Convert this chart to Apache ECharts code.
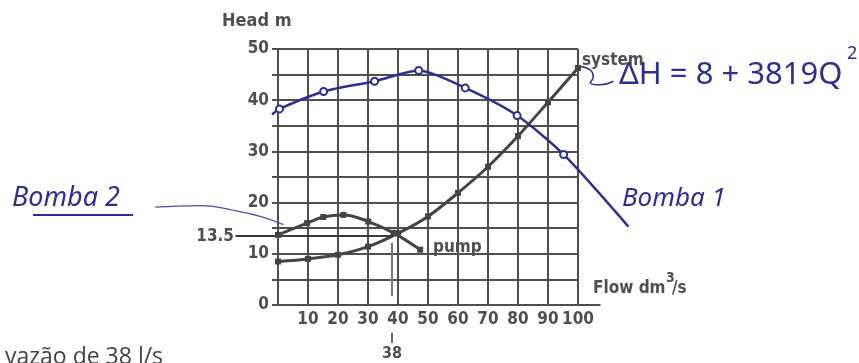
<!DOCTYPE html>
<html>
<head>
<meta charset="utf-8">
<title>Head x Flow</title>
<script src="https://cdn.jsdelivr.net/npm/echarts/dist/echarts.min.js"></script>
<style>
  html, body { margin: 0; padding: 0; background: #fff; }
  #chart { width: 859px; height: 363px; }
</style>
</head>
<body>
<div id="chart"></div>
<script>
// system curve (printed)
var systemQ = [0, 10, 20, 30, 40, 50, 60, 70, 80, 90, 100];
var systemH = [8.5, 9.0, 9.8, 11.4, 14.0, 17.3, 21.9, 27.0, 33.0, 39.6, 46.3];
// pump curve (Bomba 2)
var pumpQ = [0, 9.7, 15.1, 21.8, 30.1, 38.5, 47.4];
var pumpH = [13.7, 16.0, 17.2, 17.6, 16.3, 14.1, 10.8];
// Bomba 1, hand drawn in blue (first and last point are just the pen ends)
var bomba1Q = [-2, 0.5, 15.2, 32.2, 46.9, 62.4, 79.7, 95.2, 116.8];
var bomba1H = [37.2, 38.3, 41.7, 43.7, 45.8, 42.4, 37.0, 29.4, 15.3];
// operating point read on the chart
var opQ = 38;
var opH = 13.5;
// hand drawn pointers
var bomba2PtrQ = [-40.9, -25.9, -14.9, -5.9, 1.8];
var bomba2PtrH = [19.1, 19.4, 18.5, 17.3, 15.7];
var systemPtrQ = [100.8, 104.1, 105.1, 104.1, 107.4, 111.8];
var systemPtrH = [46.6, 45.9, 44.6, 43.4, 43.0, 43.7];

var grey = '#4f4f4f';
var ink = '#2e2f8e';
var narrow = '"Liberation Sans Narrow", "DejaVu Sans Condensed", sans-serif';

// plot box: 0..100 over 300px, 0..50 over 256px
var W = 859, H = 363, L = 278, R = 281, T = 49, B = 58;
var kx = (W - L - R) / 100, ky = (H - T - B) / 50;

function pairs(a, b) {
  return a.map(function (v, i) { return [v, b[i]]; });
}

var myChart = echarts.init(document.getElementById('chart'));
var options = {
  animation: false,
  grid: [
    { left: L, right: R, top: T, bottom: B },
    // same scale over the whole page, for the marks that leave the box
    { left: 0, right: 0, top: 0, bottom: 0 }
  ],
  xAxis: [{
    type: 'value', min: 0, max: 100, interval: 10,
    axisLine: { show: true, lineStyle: { color: grey, width: 2 } },
    axisTick: { show: false },
    splitLine: { show: true, lineStyle: { color: grey, width: 2 } },
    axisLabel: {
      color: grey, fontFamily: narrow, fontWeight: 'bold', fontSize: 17, margin: 6,
      formatter: function (v) { return v === 0 ? '' : v; }
    }
  }, {
    gridIndex: 1, type: 'value', show: false,
    min: -L / kx, max: (W - L) / kx
  }],
  yAxis: [{
    type: 'value', min: 0, max: 50, interval: 5,
    axisLine: { show: true, lineStyle: { color: grey, width: 2 } },
    axisTick: { show: true, length: 6, lineStyle: { color: grey, width: 2 } },
    splitLine: { show: true, lineStyle: { color: grey, width: 2 } },
    axisLabel: {
      color: grey, fontFamily: narrow, fontWeight: 'bold', fontSize: 17, margin: 9,
      formatter: function (v) { return v % 10 === 0 ? v : ''; }
    }
  }, {
    gridIndex: 1, type: 'value', show: false,
    min: -B / ky, max: (H - B) / ky
  }],
  series: [
    {
      name: 'system', type: 'line', smooth: 0.3,
      data: pairs(systemQ, systemH),
      symbol: 'rect', symbolSize: 6,
      itemStyle: { color: '#444' },
      lineStyle: { color: '#444', width: 3 }
    },
    {
      name: 'pump', type: 'line', smooth: 0.4,
      data: pairs(pumpQ, pumpH),
      symbol: 'rect', symbolSize: 6,
      itemStyle: { color: '#444' },
      lineStyle: { color: '#444', width: 3 }
    },
    {
      name: 'Bomba 1', type: 'line', smooth: 0.25,
      xAxisIndex: 1, yAxisIndex: 1,
      data: pairs(bomba1Q, bomba1H).map(function (p, i, arr) {
        return (i === 0 || i === arr.length - 1) ? { value: p, symbol: 'none' } : p;
      }),
      symbol: 'emptyCircle', symbolSize: 7,
      itemStyle: { color: ink, borderWidth: 2 },
      lineStyle: { color: ink, width: 2.5 }
    },
    {
      // 13.5 guide line
      type: 'line', symbol: 'none', silent: true, xAxisIndex: 1, yAxisIndex: 1,
      data: [[-14.2, opH], [opQ, opH]],
      lineStyle: { color: '#3a3a3a', width: 2 }
    },
    {
      // 38 guide line, and the small mark under the axis
      type: 'line', symbol: 'none', silent: true, xAxisIndex: 1, yAxisIndex: 1,
      data: [[opQ, 12.1], [opQ, 1.7]],
      lineStyle: { color: '#777', width: 2 }
    },
    {
      type: 'line', symbol: 'none', silent: true, xAxisIndex: 1, yAxisIndex: 1,
      data: [[opQ, -5.4], [opQ, -7.4]],
      lineStyle: { color: '#666', width: 2 }
    },
    {
      // x axis runs a bit past 100
      type: 'line', symbol: 'none', silent: true, xAxisIndex: 1, yAxisIndex: 1,
      data: [[100, 0], [107.5, 0]],
      lineStyle: { color: grey, width: 2 }
    },
    {
      type: 'line', symbol: 'none', smooth: true, silent: true, xAxisIndex: 1, yAxisIndex: 1,
      data: pairs(bomba2PtrQ, bomba2PtrH),
      lineStyle: { color: '#4a4ba0', width: 1.2 }
    },
    {
      type: 'line', symbol: 'none', smooth: true, silent: true, xAxisIndex: 1, yAxisIndex: 1,
      data: pairs(systemPtrQ, systemPtrH),
      lineStyle: { color: ink, width: 1.5 }
    }
  ],
  graphic: [
    { type: 'text', left: 222, top: 12, style: { text: 'Head m', fill: grey, font: 'bold 18px ' + narrow } },
    { type: 'text', x: 234, y: 237, style: { text: '13.5', fill: grey, font: 'bold 17px ' + narrow, align: 'right', verticalAlign: 'middle' } },
    { type: 'text', x: 582, y: 61, style: { text: 'system', fill: grey, font: 'bold 17px ' + narrow, verticalAlign: 'middle' } },
    { type: 'text', x: 433, y: 248, style: { text: 'pump', fill: grey, font: 'bold 17px ' + narrow, verticalAlign: 'middle' } },
    { type: 'text', x: 593, y: 289, style: { text: 'Flow dm', fill: grey, font: 'bold 17px ' + narrow, verticalAlign: 'middle' } },
    { type: 'text', x: 666, y: 278, style: { text: '3', fill: grey, font: 'bold 14px ' + narrow, verticalAlign: 'middle' } },
    { type: 'text', x: 672, y: 289, style: { text: '/s', fill: grey, font: 'bold 17px ' + narrow, verticalAlign: 'middle' } },
    { type: 'text', x: 392, y: 354, style: { text: '38', fill: grey, font: 'bold 16px ' + narrow, align: 'center', verticalAlign: 'middle' } },
    { type: 'text', x: 619, y: 75, style: { text: 'ΔH = 8 + 3819Q', fill: ink, font: '31px "Noto Sans", sans-serif', verticalAlign: 'middle' } },
    { type: 'text', x: 847, y: 54, style: { text: '2', fill: ink, font: '18px "Noto Sans", sans-serif', verticalAlign: 'middle' } },
    { type: 'text', x: 622, y: 199, style: { text: 'Bomba 1', fill: ink, font: 'italic 26px "Noto Sans", sans-serif', verticalAlign: 'middle' } },
    { type: 'text', x: 12, y: 198, style: { text: 'Bomba 2', fill: ink, font: 'italic 27px "Noto Sans", sans-serif', verticalAlign: 'middle' } },
    { type: 'line', shape: { x1: 33, y1: 215, x2: 133, y2: 215 }, style: { stroke: ink, lineWidth: 2 } },
    { type: 'text', x: 5, y: 346, style: { text: 'vazão de 38 l/s', fill: '#444', font: '23px "Open Sans", sans-serif' } }
  ]
};
myChart.setOption(options, true);
window.addEventListener('resize', function () {
  myChart.resize();
});
</script>
</body>
</html>
